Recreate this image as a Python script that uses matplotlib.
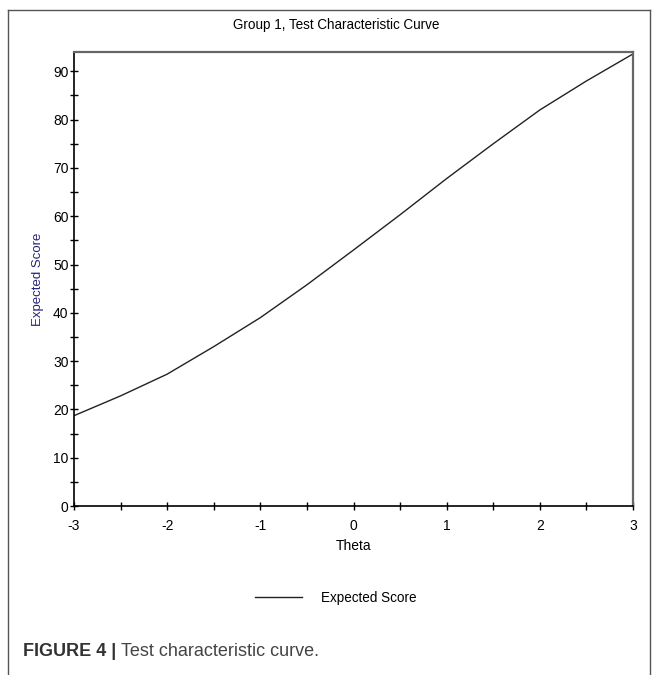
import numpy as np
import matplotlib
matplotlib.use('Agg')
import matplotlib.pyplot as plt
from matplotlib.lines import Line2D

# values
theta = [-3.0, -2.5, -2.0, -1.5, -1.0, -0.5, 0.0, 0.5, 1.0, 1.5, 2.0, 2.5, 3.0]
expected_score = [18.7, 22.8, 27.3, 33.0, 39.0, 45.8, 53.0, 60.3, 67.8, 75.0, 82.0, 88.0, 93.6]
x_ticks = [-3, -2, -1, 0, 1, 2, 3]
y_ticks = [0, 10, 20, 30, 40, 50, 60, 70, 80, 90]

plt.rcParams['font.family'] = ['Liberation Sans', 'DejaVu Sans']
plt.rcParams['axes.unicode_minus'] = False

W, H = 657, 675
fig = plt.figure(figsize=(W / 100, H / 100), dpi=100)
ax = fig.add_axes([74 / W, 1 - 506 / H, (633 - 74) / W, (506 - 52) / H])

ax.plot(theta, expected_score, color='#222222', lw=1.0)
ax.set_xlim(-3, 3)
ax.set_ylim(0, 94)

ax.set_xticks(x_ticks)
ax.set_xticks(np.arange(-3, 3.01, 0.5), minor=True)
ax.set_yticks(y_ticks)
ax.set_yticks(np.arange(0, 94, 5), minor=True)
ax.tick_params(which='both', direction='inout', length=6, width=1, labelsize=10, color='black')
ax.tick_params(axis='y', pad=1)
ax.tick_params(axis='x', pad=6)

for s in ['left', 'bottom']:
    ax.spines[s].set_color('black')
    ax.spines[s].set_linewidth(1.2)
for s in ['top', 'right']:
    ax.spines[s].set_color('#666666')
    ax.spines[s].set_linewidth(1.6)

ax.set_xlabel('Theta', fontsize=10, labelpad=5)
fig.text(38 / W, 1 - 279 / H, 'Expected Score', rotation=90, fontsize=9.5,
         color='#23237a', ha='center', va='center')
fig.text(336 / W, 1 - 25 / H, 'Group 1, Test Characteristic Curve', fontsize=9.75,
         ha='center', va='center')

handle = Line2D([], [], color='#222222', lw=1.0)
fig.legend([handle], ['Expected Score'], loc='center left', frameon=False,
           bbox_to_anchor=(255 / W, 1 - 598 / H), borderpad=0, borderaxespad=0,
           handlelength=3.5, handletextpad=1.4, fontsize=9.75)

# outer frame of the figure panel
fig.add_artist(Line2D([8 / W, 8 / W], [0, 1 - 10 / H], color='#555555', lw=1.0))
fig.add_artist(Line2D([8 / W, 650 / W], [1 - 10 / H, 1 - 10 / H], color='#555555', lw=1.0))
fig.add_artist(Line2D([650 / W, 650 / W], [0, 1 - 10 / H], color='#555555', lw=1.0))

# caption
t1 = fig.text(23 / W, 1 - 652 / H, 'FIGURE 4 | ', fontsize=13, fontweight='bold',
              color='#333333', va='center', ha='left')
fig.canvas.draw()
bb = t1.get_window_extent()
fig.text(bb.x1 / fig.bbox.width, 1 - 652 / H, 'Test characteristic curve.', fontsize=13,
         color='#444444', va='center', ha='left')

fig.savefig('out.png', dpi=100)
